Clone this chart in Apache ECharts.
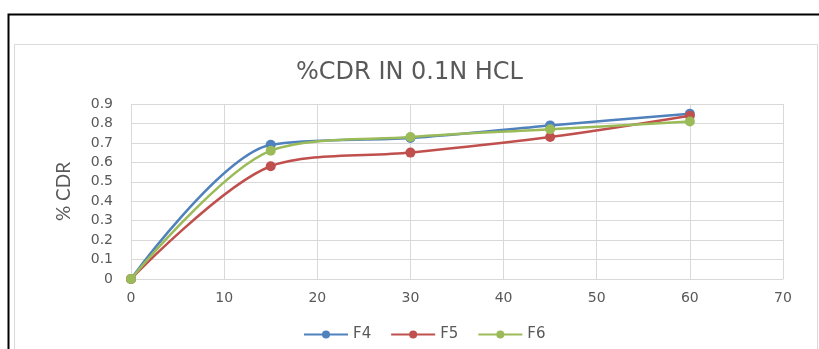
<!DOCTYPE html>
<html>
<head>
<meta charset="utf-8">
<script src="https://cdn.jsdelivr.net/npm/echarts@6/dist/echarts.min.js"></script>
<style>
  html, body { margin: 0; padding: 0; background: #ffffff; }
  #chart { width: 819px; height: 349px; }
</style>
</head>
<body>
<div id="chart"></div>
<script>
// Time points (minutes) and cumulative drug release fractions
const timePoints = [0, 15, 30, 45, 60];
const f4Values = [0, 0.69, 0.725, 0.79, 0.85];
const f5Values = [0, 0.58, 0.65, 0.73, 0.84];
const f6Values = [0, 0.66, 0.73, 0.77, 0.81];
const seriesNames = ['F4', 'F5', 'F6'];
const seriesColors = ['#4F81BD', '#C0504D', '#9BBB59'];

const pairs = vals => timePoints.map((t, i) => [t, vals[i]]);
const allValues = [f4Values, f5Values, f6Values];

const chart = echarts.init(document.getElementById('chart'), null, { renderer: 'canvas' });

const labelFont = { color: '#595959', fontFamily: 'DejaVu Sans', fontSize: 14 };

chart.setOption({
  backgroundColor: '#ffffff',
  animation: false,
  graphic: [
    { type: 'rect', shape: { x: 8.5, y: 14.5, width: 830, height: 360 },
      style: { fill: 'none', stroke: '#000000', lineWidth: 2 }, silent: true },
    { type: 'rect', shape: { x: 14.5, y: 44.5, width: 803, height: 330 },
      style: { fill: 'none', stroke: '#d9d9d9', lineWidth: 1 }, silent: true }
  ],
  title: {
    text: '%CDR IN 0.1N HCL',
    left: 'center',
    top: 56,
    textStyle: { color: '#595959', fontFamily: 'DejaVu Sans', fontSize: 24, fontWeight: 'normal' }
  },
  legend: {
    data: seriesNames,
    top: 322,
    left: 298,
    itemWidth: 44,
    itemHeight: 10,
    itemGap: 19,
    itemTextGap: 6,
    textStyle: { color: '#595959', fontFamily: 'DejaVu Sans', fontSize: 15 }
  },
  grid: { left: 131, right: 36, top: 104, bottom: 70, containLabel: false },
  xAxis: {
    type: 'value',
    min: 0, max: 70, interval: 10,
    axisLine: { show: true, lineStyle: { color: '#d9d9d9', width: 1 } },
    axisTick: { show: false },
    splitLine: { show: true, lineStyle: { color: '#d9d9d9', width: 1 } },
    axisLabel: Object.assign({ margin: 12 }, labelFont)
  },
  yAxis: {
    type: 'value',
    min: 0, max: 0.9, interval: 0.1,
    name: '% CDR',
    nameLocation: 'middle',
    nameGap: 58,
    nameTextStyle: { color: '#595959', fontFamily: 'Lato', fontSize: 19 },
    axisLine: { show: false },
    axisTick: { show: false },
    splitLine: { show: true, lineStyle: { color: '#d9d9d9', width: 1 } },
    axisLabel: Object.assign({ margin: 18 }, labelFont)
  },
  series: seriesNames.map((name, i) => ({
    name: name,
    type: 'line',
    data: pairs(allValues[i]),
    smooth: 0.3,
    symbol: 'circle',
    symbolSize: 10,
    showSymbol: true,
    lineStyle: { width: 2.5, color: seriesColors[i] },
    itemStyle: { color: seriesColors[i] },
    z: 3 + i
  }))
});
</script>
</body>
</html>
